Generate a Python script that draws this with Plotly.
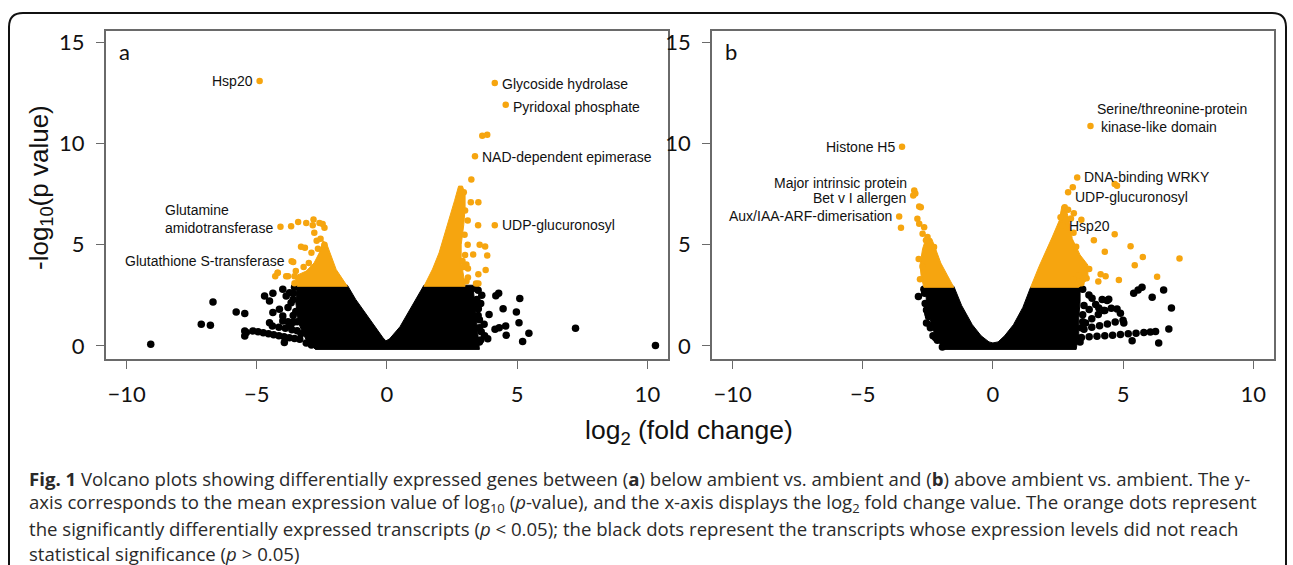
import plotly.graph_objects as go

W, H = 1293, 565
ORANGE = "#F6A50F"
BLACK = "#000000"
FRAME = "#6a6a6a"

# ---------------- Panel a data ----------------
# dense non-significant cloud (outline of the packed points)
A_NS_CORE_X = [-3.45, -1.52, -1.2, -0.8, -0.4, -0.15, -0.04, 0.1, 0.5, 1.11, 1.42, 3.3, 3.35, 3.4, 3.45, 3.5, 3.55, -2.75, -3.1, -3.25, -3.4, -3.5, -3.45]
A_NS_CORE_Y = [3.0, 3.0, 2.3, 1.56, 0.8, 0.4, 0.25, 0.35, 0.95, 2.3, 3.0, 3.0, 2.4, 1.6, 0.9, 0.4, -0.17, -0.17, 0.3, 0.7, 1.15, 2.14, 3.0]
# dense significant clusters (outline)
A_SIG_CORE_L_X = [-3.45, -1.52, -1.95, -2.15, -2.3, -2.45, -2.6, -2.8, -3.1, -3.45]
A_SIG_CORE_L_Y = [2.95, 2.95, 3.78, 4.5, 5.0, 5.2, 4.6, 4.1, 3.7, 3.5]
A_SIG_CORE_R_X = [1.42, 3.0, 2.95, 2.85, 2.85, 2.95, 3.0, 3.0, 2.9, 2.75, 2.6, 2.39, 2.2, 2.0, 1.75, 1.42]
A_SIG_CORE_R_Y = [2.95, 2.95, 3.4, 4.2, 5.0, 6.0, 6.8, 7.5, 7.9, 7.9, 7.2, 6.25, 5.4, 4.6, 3.8, 2.95]
# individual significant transcripts
A_SIG_X = [-4.89, 4.14, 4.56, 3.66, 3.85, 3.38, 3.24, 3.22, 3.51, 3.50, 4.14, 3.56, 3.77, 3.31, 3.85, 3.05, 3.11, 3.51, 3.79, 3.11, 3.42, 3.51,
           2.95, 2.85, 3.0, 3.1, 2.98, 3.1, 3.0, 2.9, 3.05, 2.95,
           -4.09, -3.68, -3.41, -3.10, -2.82, -2.59, -2.47, -2.40, -2.85, -2.79, -3.30, -3.15, -3.66, -3.60, -4.29, -4.20, -3.80, -3.55,
           -2.7, -2.55, -2.9, -2.65, -3.0, -3.2, -3.4, -2.4, -4.19, -3.87, -3.55, -3.5]
A_SIG_Y = [13.10, 12.99, 11.92, 10.39, 10.44, 9.37, 8.22, 7.10, 7.10, 5.97, 5.97, 5.00, 4.92, 4.52, 4.47, 4.03, 3.83, 3.54, 3.75, 3.38, 3.08, 3.08,
           7.6, 7.3, 6.7, 6.2, 5.5, 5.0, 4.5, 4.2, 3.2, 3.9,
           5.89, 5.92, 6.13, 6.08, 6.25, 6.08, 6.03, 5.84, 5.97, 5.59, 4.90, 4.85, 4.19, 4.15, 3.45, 3.62, 3.45, 3.45,
           5.2, 5.3, 4.6, 4.8, 4.1, 3.9, 3.3, 5.0, 3.62, 3.45, 3.1, 3.7]
# individual non-significant transcripts
A_NS_X = [-9.07, -7.13, -6.78, -6.68, -5.79, -5.46, -5.46, -5.46, -5.40, -4.70, -4.51, -4.38, -4.00, -3.87, -4.38, -4.13, -4.00, -4.51,
          -3.94, -3.74, -3.68, -3.80, -3.70, -3.60, -3.60,
          -5.15, -4.95, -4.75, -4.55, -4.35, -4.15, -3.95, -3.75, -3.55, -3.35,
          -4.40, -4.15, -3.90, -3.65, -3.45, -4.00, -3.80, -3.60,
          -3.55, -3.60, -3.50, -3.45, -3.30, -3.10, -2.90,
          3.64, 4.18, 4.29, 5.10, 3.51, 3.92, 4.46, 4.97, 5.07, 3.73, 4.15, 4.31, 4.56, 5.45, 4.58, 3.87, 7.24, 5.21, 10.31,
          3.62, 3.75, 3.55, 3.55, 3.60, 3.50, 3.45,
          3.40, 3.45, 3.50, 3.55, 3.60]
A_NS_Y = [0.08, 1.07, 1.02, 2.17, 1.68, 1.60, 0.74, 0.49, 0.66, 2.47, 2.22, 2.60, 2.80, 2.47, 1.65, 1.81, 1.48, 1.15,
          0.17, 2.63, 2.14, 1.90, 1.00, 1.50, 2.60,
          0.74, 0.70, 0.65, 0.60, 0.55, 0.50, 0.45, 0.41, 0.37, 0.33,
          0.99, 0.93, 0.87, 0.80, 0.75, 1.23, 1.20, 1.17,
          2.90, 2.30, 1.70, 1.20, 0.60, 0.15, 0.05,
          2.50, 2.48, 2.61, 2.34, 1.84, 1.56, 1.84, 1.68, 1.15, 1.07, 0.82, 0.90, 0.99, 0.63, 0.53, 0.36, 0.87, 0.22, 0.02,
          0.70, 0.50, 0.20, 1.30, 2.10, 2.75, 2.30,
          2.85, 2.10, 1.50, 0.90, 0.30]
A_LABELS = ["Hsp20", "Glycoside hydrolase", "Pyridoxal phosphate", "NAD-dependent epimerase", "UDP-glucuronosyl",
            "Glutamine<br>amidotransferase", "Glutathione S-transferase"]
A_LABEL_X = [-4.89, 4.14, 4.56, 3.38, 4.14, -4.09, -3.66]
A_LABEL_Y = [13.10, 12.99, 11.92, 9.37, 5.97, 5.89, 4.19]
A_LABEL_SIDE = ["left", "right", "right", "right", "right", "left", "left"]
A_LABEL_DY = [0, -1, -2, -1, 0, 8, 0]

# ---------------- Panel b data ----------------
B_NS_CORE_X = [-2.6, -1.5, -1.2, -0.79, -0.45, -0.15, 0.0, 0.2, 0.45, 0.79, 1.15, 1.45, 3.35, 3.35, 3.3, 3.3, 3.2, -1.9, -2.1, -2.3, -2.45, -2.55, -2.6]
B_NS_CORE_Y = [2.95, 2.95, 2.0, 1.05, 0.5, 0.2, 0.15, 0.2, 0.5, 1.05, 1.9, 2.9, 2.9, 2.2, 1.4, 0.6, -0.17, -0.17, 0.25, 0.8, 1.5, 2.2, 2.95]
B_SIG_CORE_L_X = [-2.65, -1.5, -1.75, -2.0, -2.2, -2.35, -2.55, -2.7, -2.8, -2.75, -2.65]
B_SIG_CORE_L_Y = [2.9, 2.9, 3.5, 4.1, 4.8, 5.3, 5.4, 4.8, 4.0, 3.4, 2.9]
B_SIG_CORE_R_X = [1.45, 3.3, 3.65, 3.65, 3.35, 3.05, 2.95, 2.8, 2.65, 2.55, 2.28, 1.77, 1.45]
B_SIG_CORE_R_Y = [2.9, 2.9, 3.3, 4.0, 4.5, 5.3, 6.1, 6.8, 6.9, 6.2, 5.38, 3.92, 2.9]
B_SIG_X = [-3.49, -3.02, -2.98, -3.06, -2.83, -2.77, -3.60, -3.53, -2.90, -2.83, -2.64, -2.70, -2.51, -2.57, -2.26, -2.70, -2.85, -2.80,
           3.75, 3.24, 4.68, 4.77, 3.07, 2.89, 2.76, 2.89, 3.11, 3.40, 2.60, 2.66, 4.68, 3.88, 5.29, 4.30, 5.76, 7.17, 5.45,
           4.14, 4.33, 4.84, 6.31, 4.05, 3.10, 3.40, 3.60, 3.30, 3.70, 3.20, 3.10, 3.00]
B_SIG_Y = [9.84, 7.68, 7.54, 7.43, 6.89, 6.86, 6.40, 5.84, 6.29, 6.04, 5.87, 5.55, 5.38, 5.22, 4.89, 3.91, 4.30, 3.30,
           10.87, 8.33, 8.00, 7.92, 7.84, 7.59, 6.86, 6.73, 6.56, 6.24, 6.36, 5.96, 5.52, 5.22, 4.93, 4.65, 4.40, 4.32, 3.99,
           3.54, 3.45, 3.26, 3.42, 3.18, 3.30, 3.10, 3.35, 3.50, 3.80, 4.90, 5.60, 6.30]
B_NS_X = [-2.86, -2.55, -2.47, -2.55, -2.13, -1.87, -1.94, -2.62, -2.40, -2.30,
          -2.65, -2.60, -2.50, -2.40, -2.20,
          3.69, 3.81, 4.45, 4.39, 4.07, 4.26, 4.77, 4.90, 5.03, 5.41, 5.58, 5.73, 6.12, 6.56, 6.86, 6.76, 5.35, 6.37,
          3.40, 3.70, 4.00, 4.30, 4.60, 4.90, 5.20, 5.50, 5.80, 6.05, 6.25,
          3.50, 3.80, 4.10, 4.40, 4.70, 5.00,
          3.56, 3.80, 4.05, 4.30, 4.55,
          3.45, 3.70, 3.95, 4.20,
          3.45, 3.50, 3.45, 3.40, 3.35]
B_NS_Y = [2.44, 1.78, 1.46, 1.13, 0.28, 0.06, -0.05, 2.60, 0.90, 0.50,
          2.80, 2.10, 1.60, 1.00, 0.40,
          2.52, 2.36, 2.31, 2.24, 1.87, 1.75, 1.82, 1.62, 1.13, 2.60, 2.77, 2.90, 2.41, 2.77, 1.87, 0.84, 0.26, 0.14,
          0.42, 0.45, 0.48, 0.50, 0.53, 0.56, 0.60, 0.63, 0.66, 0.69, 0.72,
          0.83, 0.92, 1.00, 1.09, 1.18, 1.27,
          1.13, 1.35, 1.55, 1.75, 1.86,
          1.54, 1.80, 2.05, 2.30,
          2.80, 2.00, 1.20, 0.90, 0.20]
B_LABELS = ["Histone H5", "Major intrinsic protein", "Bet v I allergen", "Aux/IAA-ARF-dimerisation",
            "Serine/threonine-protein<br> kinase-like domain", "DNA-binding WRKY", "UDP-glucuronosyl", "Hsp20"]
B_LABEL_X = [-3.49, -3.02, -3.06, -3.60, 3.75, 3.24, 2.89, 2.66]
B_LABEL_Y = [9.84, 7.68, 7.43, 6.40, 10.87, 8.33, 7.59, 5.96]
B_LABEL_SIDE = ["left", "left", "left", "left", "right", "right", "right", "right"]
B_LABEL_DY = [0, 8, -2, 0, 8, 0, -5, -1]

X_TICKS = [-10, -5, 0, 5, 10]
Y_TICKS = [0, 5, 10, 15]
A_XRANGE = [-10.8, 10.78]
B_XRANGE = [-10.79, 10.8]
YRANGE = [-0.66, 15.58]

CAPTION = [
    "<b>Fig. 1</b> Volcano plots showing differentially expressed genes between (<b>a</b>) below ambient vs. ambient and (<b>b</b>) above ambient vs. ambient. The y-",
    "axis corresponds to the mean expression value of log<sub>10</sub> (<i>p</i>-value), and the x-axis displays the log<sub>2</sub> fold change value. The orange dots represent",
    "the significantly differentially expressed transcripts (<i>p</i> &lt; 0.05); the black dots represent the transcripts whose expression levels did not reach",
    "statistical significance (<i>p</i> &gt; 0.05)",
]


def px(x):
    return x / W


def py(y):
    return 1 - y / H


fig = go.Figure()


def add_panel(xa, ya, core_ns, cores_sig, ns, sig):
    fig.add_trace(go.Scatter(x=core_ns[0], y=core_ns[1], mode="lines", fill="toself", fillcolor=BLACK,
                             line=dict(color=BLACK, width=1), xaxis=xa, yaxis=ya, hoverinfo="skip"))
    fig.add_trace(go.Scatter(x=ns[0], y=ns[1], mode="markers", marker=dict(color=BLACK, size=7.5, line=dict(width=0)),
                             xaxis=xa, yaxis=ya))
    for cx, cy in cores_sig:
        fig.add_trace(go.Scatter(x=cx, y=cy, mode="lines", fill="toself", fillcolor=ORANGE,
                                 line=dict(color=ORANGE, width=1), xaxis=xa, yaxis=ya, hoverinfo="skip"))
    fig.add_trace(go.Scatter(x=sig[0], y=sig[1], mode="markers", marker=dict(color=ORANGE, size=6.5, line=dict(width=0)),
                             xaxis=xa, yaxis=ya))


add_panel("x", "y", (A_NS_CORE_X, A_NS_CORE_Y), [(A_SIG_CORE_L_X, A_SIG_CORE_L_Y), (A_SIG_CORE_R_X, A_SIG_CORE_R_Y)],
          (A_NS_X, A_NS_Y), (A_SIG_X, A_SIG_Y))
add_panel("x2", "y2", (B_NS_CORE_X, B_NS_CORE_Y), [(B_SIG_CORE_L_X, B_SIG_CORE_L_Y), (B_SIG_CORE_R_X, B_SIG_CORE_R_Y)],
          (B_NS_X, B_NS_Y), (B_SIG_X, B_SIG_Y))

TICKFONT = dict(family="Lato, Open Sans, sans-serif", size=22, color="#111")
LABELFONT = dict(family="Liberation Sans, Arial, sans-serif", size=14, color="#111")

axis_common = dict(showline=True, mirror=True, linecolor=FRAME, linewidth=1.5, showgrid=False, zeroline=False,
                   ticks="outside", ticklen=8, tickwidth=1.3, tickcolor=FRAME, tickfont=TICKFONT,
                   ticklabelstandoff=7, automargin=False, fixedrange=True)

ydom = [py(359.3), py(30.7)]
fig.update_layout(
    width=W, height=H, margin=dict(l=0, r=0, t=0, b=0), paper_bgcolor="white", plot_bgcolor="white",
    showlegend=False,
    xaxis=dict(domain=[px(105.7), px(667.7)], range=A_XRANGE, tickvals=X_TICKS, anchor="y", **axis_common),
    yaxis=dict(domain=ydom, range=YRANGE, tickvals=Y_TICKS, anchor="x", **axis_common),
    xaxis2=dict(domain=[px(712), px(1274)], range=B_XRANGE, tickvals=X_TICKS, anchor="y2", **axis_common),
    yaxis2=dict(domain=ydom, range=YRANGE, tickvals=Y_TICKS, anchor="x2", **axis_common),
)

ann = []
for labels, lx, ly, side, dy, xr, yr in [
    (A_LABELS, A_LABEL_X, A_LABEL_Y, A_LABEL_SIDE, A_LABEL_DY, "x", "y"),
    (B_LABELS, B_LABEL_X, B_LABEL_Y, B_LABEL_SIDE, B_LABEL_DY, "x2", "y2"),
]:
    for t, x, y, s, d in zip(labels, lx, ly, side, dy):
        ann.append(dict(text=t, x=x, y=y, xref=xr, yref=yr, showarrow=False, font=LABELFONT, align="left",
                        xanchor="right" if s == "left" else "left", yanchor="middle",
                        xshift=-5 if s == "left" else 5, yshift=d))

# panel letters
for letter, xr, yr in [("a", "x domain", "y domain"), ("b", "x2 domain", "y2 domain")]:
    ann.append(dict(text=letter, x=0.02, y=0.985, xref=xr, yref=yr, xanchor="left", yanchor="top", showarrow=False,
                    font=dict(family="Lato, sans-serif", size=22, color="#111")))

# axis titles
ann.append(dict(text="-log<sub>10</sub>(p value)", x=px(41), y=py(188), xref="paper", yref="paper", textangle=-90,
                showarrow=False, xanchor="center", yanchor="middle",
                font=dict(family="Liberation Sans, Arial, sans-serif", size=26, color="#111")))
ann.append(dict(text="log<sub>2</sub> (fold change)", x=px(689), y=py(432), xref="paper", yref="paper",
                showarrow=False, xanchor="center", yanchor="middle",
                font=dict(family="Liberation Sans, Arial, sans-serif", size=26.5, color="#111")))

# caption
for i, line in enumerate(CAPTION):
    ann.append(dict(text=line, x=px(27), y=py(478 + 25 * i), xref="paper", yref="paper", showarrow=False,
                    xanchor="left", yanchor="middle",
                    font=dict(family="Open Sans, sans-serif", size=18.6, color="#2a2a2a")))

fig.update_layout(annotations=ann)

# rounded outer border
L, T, R, B, r = 9, 13, 1286, 590, 14
path = (f"M {px(L)},{py(B)} L {px(L)},{py(T + r)} Q {px(L)},{py(T)} {px(L + r)},{py(T)} "
        f"L {px(R - r)},{py(T)} Q {px(R)},{py(T)} {px(R)},{py(T + r)} L {px(R)},{py(B)}")
fig.add_shape(type="path", path=path, xref="paper", yref="paper", line=dict(color="#111", width=2))

fig.write_html("out.html")
